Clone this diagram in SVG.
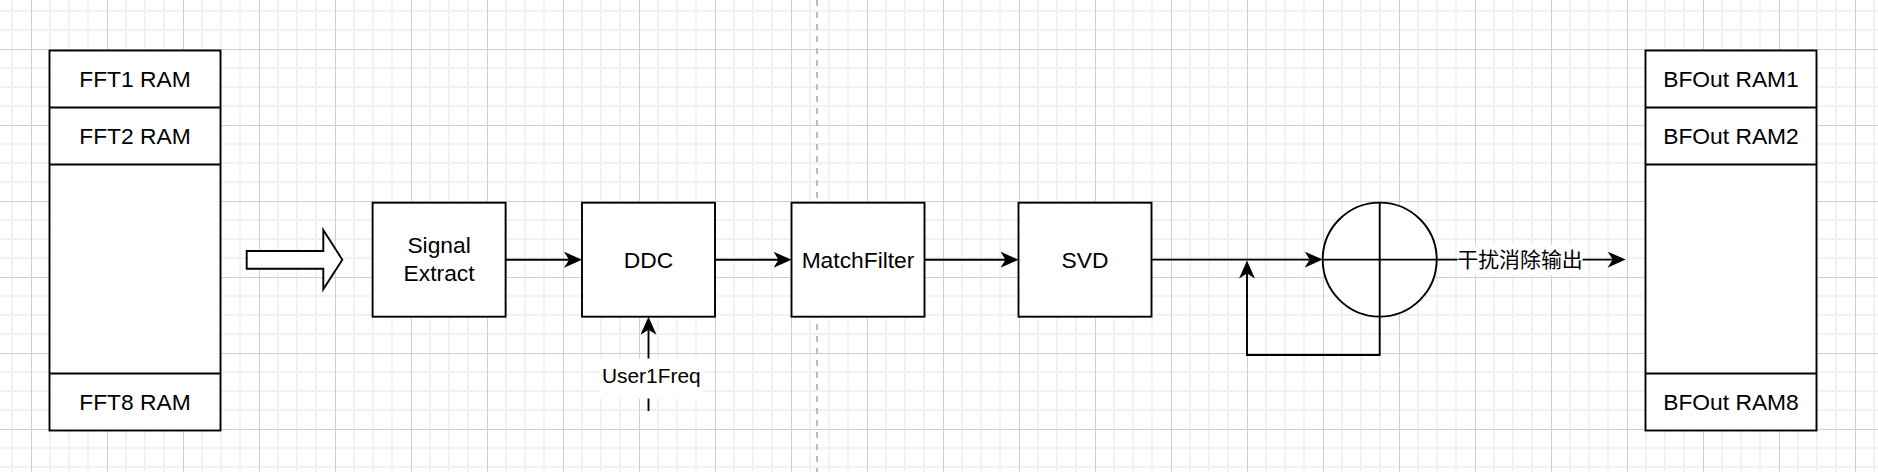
<svg xmlns="http://www.w3.org/2000/svg" width="1878" height="472" viewBox="0 0 1878 472">
  <style>
    .box { fill: #ffffff; stroke: #000000; stroke-width: 1.9; }
    .sep { stroke: #000000; stroke-width: 1.9; fill: none; }
    .txt { font-family: "Liberation Sans", Arial, Helvetica, sans-serif; font-size: 22.8px; fill: #000000; text-anchor: middle; }
    .lbl { font-family: "Liberation Sans", Arial, Helvetica, sans-serif; font-size: 20.9px; fill: #000000; text-anchor: middle; }
    .cjk { font-family: "Liberation Sans", "Noto Sans CJK SC", sans-serif; font-size: 20.9px; fill: #000000; text-anchor: middle; }
    .edge { stroke: #000000; stroke-width: 1.9; fill: none; }
    .arr { marker-end: url(#arrow); }
  </style>
  <defs>
    <pattern id="grid" width="76" height="76" patternUnits="userSpaceOnUse" x="31" y="49">
      <rect x="18" y="0" width="2" height="76" fill="#f2f2f2"/>
      <rect x="37" y="0" width="2" height="76" fill="#f2f2f2"/>
      <rect x="56" y="0" width="2" height="76" fill="#f2f2f2"/>
      <rect x="0" y="18" width="76" height="2" fill="#f2f2f2"/>
      <rect x="0" y="37" width="76" height="2" fill="#f2f2f2"/>
      <rect x="0" y="56" width="76" height="2" fill="#f2f2f2"/>
      <rect x="0" y="0" width="1" height="76" fill="#cfcfcf"/>
      <rect x="0" y="0" width="76" height="1" fill="#cfcfcf"/>
    </pattern>
    <marker id="arrow" viewBox="0 0 18 16" refX="8" refY="8" markerWidth="18" markerHeight="16" markerUnits="userSpaceOnUse" orient="auto">
      <path d="M0,0 L18,8 L0,16 L5,8 Z" fill="#000000"/>
    </marker>
  </defs>

  <rect x="0" y="0" width="1878" height="472" fill="#ffffff"/>
  <rect x="0" y="0" width="1878" height="472" fill="url(#grid)"/>

  <line x1="817" y1="0" x2="817" y2="472" stroke="#bdbdbd" stroke-width="2" stroke-dasharray="6 6"/>

  <g id="fft-ram">
    <rect class="box" x="49.5" y="50.5" width="171" height="380"/>
    <line class="sep" x1="49.5" y1="107.5" x2="220.5" y2="107.5"/>
    <line class="sep" x1="49.5" y1="164.5" x2="220.5" y2="164.5"/>
    <line class="sep" x1="49.5" y1="373.5" x2="220.5" y2="373.5"/>
    <text class="txt" x="135" y="86.8">FFT1 RAM</text>
    <text class="txt" x="135" y="143.6">FFT2 RAM</text>
    <text class="txt" x="135" y="409.6">FFT8 RAM</text>
  </g>

  <g id="big-arrow">
    <polygon class="box" points="246.7,251 323.3,251 323.3,230 342.3,259.7 323.3,289.3 323.3,268.7 246.7,268.7"/>
  </g>

  <g id="signal-extract">
    <rect class="box" x="372.6" y="202.7" width="133" height="114"/>
    <text class="txt" x="439.1" y="253.3">Signal</text>
    <text class="txt" x="439.1" y="280.8">Extract</text>
  </g>

  <g id="ddc">
    <rect class="box" x="582" y="202.7" width="133" height="114"/>
    <text class="txt" x="648.5" y="267.6">DDC</text>
  </g>

  <g id="matchfilter">
    <rect class="box" x="791.5" y="202.7" width="133" height="114"/>
    <text class="txt" x="858" y="267.6">MatchFilter</text>
  </g>

  <g id="svd">
    <rect class="box" x="1018.5" y="202.7" width="133" height="114"/>
    <text class="txt" x="1085" y="267.6">SVD</text>
  </g>

  <g id="summer">
    <ellipse class="box" cx="1379.7" cy="259.6" rx="57" ry="57"/>
    <line class="sep" x1="1379.7" y1="202.6" x2="1379.7" y2="316.6"/>
    <line class="sep" x1="1322.7" y1="259.6" x2="1436.7" y2="259.6"/>
  </g>

  <g id="bfout-ram">
    <rect class="box" x="1645.5" y="50.5" width="171" height="380"/>
    <line class="sep" x1="1645.5" y1="107.5" x2="1816.5" y2="107.5"/>
    <line class="sep" x1="1645.5" y1="164.5" x2="1816.5" y2="164.5"/>
    <line class="sep" x1="1645.5" y1="373.5" x2="1816.5" y2="373.5"/>
    <text class="txt" x="1731" y="86.8">BFOut RAM1</text>
    <text class="txt" x="1731" y="143.6">BFOut RAM2</text>
    <text class="txt" x="1731" y="409.6">BFOut RAM8</text>
  </g>

  <g id="connectors">
    <line class="edge arr" x1="505.6" y1="259.7" x2="572" y2="259.7"/>
    <line class="edge arr" x1="715" y1="259.7" x2="781.5" y2="259.7"/>
    <line class="edge arr" x1="924.5" y1="259.7" x2="1008.5" y2="259.7"/>
    <line class="edge arr" x1="1151.5" y1="259.6" x2="1312.7" y2="259.6"/>
    <path class="edge arr" d="M1379.7,316.6 V355 H1247 V270.6"/>
    <line class="edge arr" x1="648.5" y1="411" x2="648.5" y2="326.7"/>
    <rect x="600" y="358.5" width="103" height="40" fill="#ffffff"/>
    <text class="lbl" x="651.3" y="382.5">User1Freq</text>
    <line class="edge arr" x1="1436.7" y1="259.6" x2="1615.7" y2="259.6"/>
    <rect x="1457.5" y="245" width="125" height="30" fill="#ffffff"/>
    <text class="cjk" x="1520" y="267">干扰消除输出</text>
  </g>
</svg>
